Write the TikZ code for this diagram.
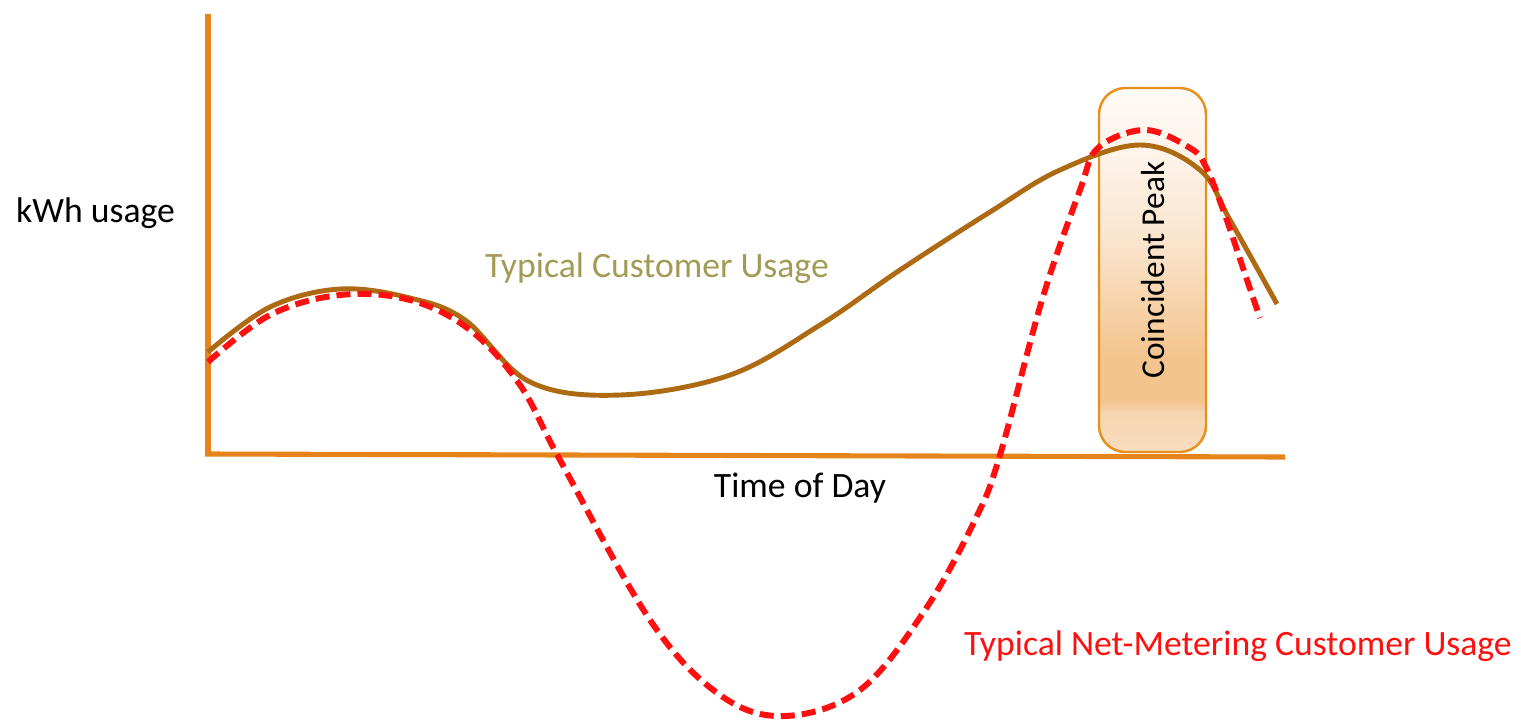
\documentclass[tikz,border=0pt]{standalone}
\usepackage{fontspec}
\setmainfont{Carlito}
\usetikzlibrary{positioning}

\definecolor{axisorange}{HTML}{E5841A}
\definecolor{usagebrown}{HTML}{AE6A12}
\definecolor{netred}{HTML}{FF0F0F}
\definecolor{labelolive}{HTML}{A39B55}
\definecolor{peakedge}{HTML}{E8901E}
\definecolor{peakA}{HTML}{F8DDBE}
\definecolor{peakB}{HTML}{F6D5B0}
\definecolor{peakC}{HTML}{F4C48E}
\definecolor{peakD}{HTML}{F7D4AC}
\definecolor{peakE}{HTML}{FAE3CB}
\definecolor{peakF}{HTML}{FDF4EA}
\definecolor{peakG}{HTML}{FEFAF6}

% peak window fill, pale at the top, deeper near the bottom
\pgfdeclareverticalshading{peakfill}{100bp}{%
  color(0bp)=(peakA);
  color(25bp)=(peakA);
  color(30.5bp)=(peakB);
  color(32bp)=(peakC);
  color(38bp)=(peakC);
  color(46bp)=(peakD);
  color(53bp)=(peakE);
  color(66bp)=(peakF);
  color(75bp)=(peakG);
  color(100bp)=(peakG)}

\tikzset{
  axisline/.style={axisorange, line width=2.9pt},
  usagecurve/.style={usagebrown, line width=2.8pt},
  netcurve/.style={netred, line width=3.4pt, dash pattern=on 8pt off 4pt},
  label/.style={font=\fontsize{20.3}{24}\selectfont},
}

\begin{document}
\begin{tikzpicture}[x=0.02cm, y=-0.02cm]
      \useasboundingbox (0,0) rectangle (1521,720);
      % coincident peak window
      \draw[peakedge, line width=1.4pt, rounded corners=15, shading=peakfill]
        (1099,88) rectangle (1206,452);
      \node[label, rotate=90, font=\fontsize{19}{23}\selectfont] (peak) at (1153,270) {Coincident Peak};
      % axes
      \draw[axisline] (208,14) -- (208,456);
      \draw[axisline] (205,454) -- (1285,457);
      \node[label, anchor=west] (ylab) at (10,213) {kWh usage};
      \node[label] (xlab) at (800,488) {Time of Day};
      % usage curves
      \draw[usagecurve] plot[smooth, tension=0.6] coordinates {
        (208,352) (270,307) (340,289) (410,298) (465,320) (530,382) (620,395)
        (730,375) (820,325) (900,270) (990,212) (1060,170) (1140,145)
        (1200,170) (1230,220) (1277,304)};
      \draw[netcurve] plot[smooth, tension=0.6] coordinates {
        (208,362) (270,315) (340,295) (410,300) (470,330) (520,385) (560,460)
        (650,620) (720,695) (785,716) (860,690) (925,610) (975,520) (1000,455)
        (1042,300) (1080,190) (1098,148) (1145,130) (1190,148) (1206,167)
        (1225,215) (1247,280) (1260,318)};
      \node[label, text=labelolive] (usage) at (657,268) {Typical Customer Usage};
      \node[label, text=netred, anchor=west] (netusage) at (958,646) {Typical Net-Metering Customer Usage};
\end{tikzpicture}
\end{document}
